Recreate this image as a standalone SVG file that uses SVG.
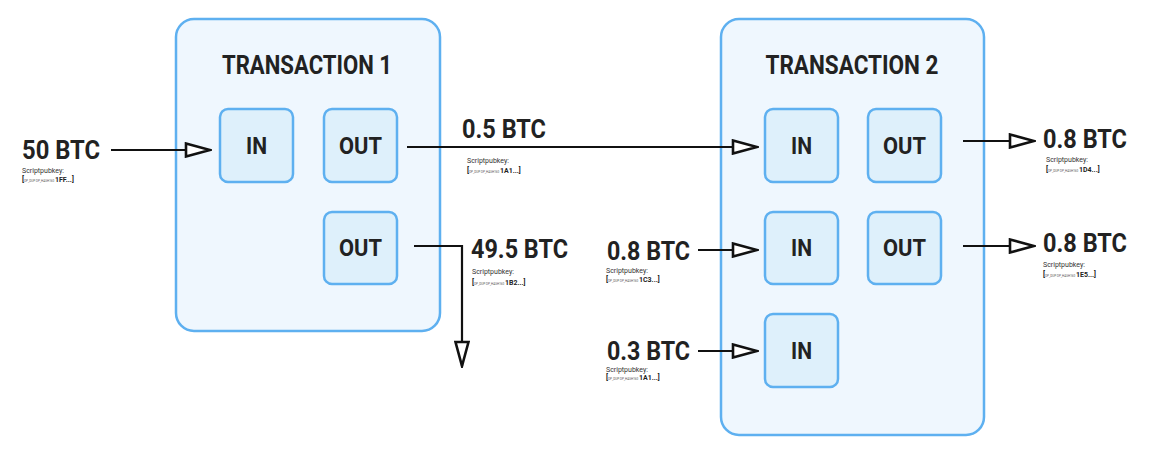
<svg xmlns="http://www.w3.org/2000/svg" width="1156" height="452" viewBox="0 0 1156 452">
<defs>
<style>
.tx{fill:#eff7fe;stroke:#5eb0f0;stroke-width:2.5}
.io{fill:#def0fb;stroke:#5eb0f0;stroke-width:2.5}
.title{font-family:Roboto,"Liberation Sans",sans-serif;font-weight:bold;font-size:25px;fill:#222;text-anchor:middle}
.lbl{font-family:Roboto,"Liberation Sans",sans-serif;font-weight:bold;font-size:23px;fill:#222;text-anchor:middle}
.amt{font-family:Roboto,"Liberation Sans",sans-serif;font-weight:bold;font-size:25px;fill:#222}
.sp{font-family:Roboto,"Liberation Sans",sans-serif;font-size:7px;fill:#333}
.br{font-family:Roboto,"Liberation Sans",sans-serif;font-size:7px;fill:#222;font-weight:bold}
.tiny{font-size:3px;font-weight:normal;fill:#555}
.c{fill:none;stroke:#111;stroke-width:2.2}
</style>
<marker id="arr" viewBox="0 0 28 16" refX="26" refY="8" markerWidth="28" markerHeight="16" markerUnits="userSpaceOnUse" orient="auto">
<path d="M2,1.5 L26,8 L2,14.5 Z" fill="#fff" stroke="#111" stroke-width="2.6" stroke-linejoin="miter"/>
</marker>
</defs>
<rect width="1156" height="452" fill="#fff"/>
<g id="tx1">
<rect class="tx" x="176" y="19" width="264" height="312" rx="18"/>
<text class="title" x="307" y="74" textLength="170" lengthAdjust="spacingAndGlyphs">TRANSACTION 1</text>
</g>
<g id="tx1-in">
<rect class="io" x="220" y="109" width="73" height="73" rx="8"/>
<text class="lbl" x="256.5" y="154" textLength="21" lengthAdjust="spacingAndGlyphs">IN</text>
</g>
<g id="tx1-out1">
<rect class="io" x="324" y="109" width="73" height="73" rx="8"/>
<text class="lbl" x="360.5" y="154" textLength="43" lengthAdjust="spacingAndGlyphs">OUT</text>
</g>
<g id="tx1-out2">
<rect class="io" x="324" y="212" width="73" height="72" rx="8"/>
<text class="lbl" x="360.5" y="256" textLength="43" lengthAdjust="spacingAndGlyphs">OUT</text>
</g>
<g id="tx2">
<rect class="tx" x="721" y="19" width="263" height="416" rx="18"/>
<text class="title" x="852" y="74" textLength="173" lengthAdjust="spacingAndGlyphs">TRANSACTION 2</text>
</g>
<g id="tx2-in1">
<rect class="io" x="765" y="109" width="73" height="73" rx="8"/>
<text class="lbl" x="801.5" y="154" textLength="21" lengthAdjust="spacingAndGlyphs">IN</text>
</g>
<g id="tx2-in2">
<rect class="io" x="765" y="212" width="73" height="72" rx="8"/>
<text class="lbl" x="801.5" y="256" textLength="21" lengthAdjust="spacingAndGlyphs">IN</text>
</g>
<g id="tx2-in3">
<rect class="io" x="765" y="314" width="73" height="73" rx="8"/>
<text class="lbl" x="801.5" y="359" textLength="21" lengthAdjust="spacingAndGlyphs">IN</text>
</g>
<g id="tx2-out1">
<rect class="io" x="868" y="109" width="73" height="73" rx="8"/>
<text class="lbl" x="904.5" y="154" textLength="43" lengthAdjust="spacingAndGlyphs">OUT</text>
</g>
<g id="tx2-out2">
<rect class="io" x="868" y="212" width="73" height="72" rx="8"/>
<text class="lbl" x="904.5" y="256" textLength="43" lengthAdjust="spacingAndGlyphs">OUT</text>
</g>
<g id="connectors">
<path class="c" d="M111,150 H210" marker-end="url(#arr)"/>
<path class="c" d="M407,147 H757" marker-end="url(#arr)"/>
<path class="c" d="M414,246 H462 V366" marker-end="url(#arr)"/>
<path class="c" d="M698,250 H757" marker-end="url(#arr)"/>
<path class="c" d="M698,351 H757" marker-end="url(#arr)"/>
<path class="c" d="M963,141 H1034" marker-end="url(#arr)"/>
<path class="c" d="M963,246 H1034" marker-end="url(#arr)"/>
</g>
<g id="label-50">
<text class="amt" x="22" y="159" textLength="78" lengthAdjust="spacingAndGlyphs">50 BTC</text>
<text class="sp" x="22" y="173">Scriptpubkey:</text>
<text class="br" x="22" y="182">[<tspan class="tiny">OP_DUP OP_HASH160 </tspan>1FF...]</text>
</g>
<g id="label-05">
<text class="amt" x="462" y="138" textLength="84" lengthAdjust="spacingAndGlyphs">0.5 BTC</text>
<text class="sp" x="467" y="163">Scriptpubkey:</text>
<text class="br" x="467" y="173">[<tspan class="tiny">OP_DUP OP_HASH160 </tspan>1A1...]</text>
</g>
<g id="label-495">
<text class="amt" x="471" y="258" textLength="97" lengthAdjust="spacingAndGlyphs">49.5 BTC</text>
<text class="sp" x="472" y="274">Scriptpubkey:</text>
<text class="br" x="472" y="285">[<tspan class="tiny">OP_DUP OP_HASH160 </tspan>1B2...]</text>
</g>
<g id="label-08-in">
<text class="amt" x="607" y="260" textLength="83" lengthAdjust="spacingAndGlyphs">0.8 BTC</text>
<text class="sp" x="606" y="273">Scriptpubkey:</text>
<text class="br" x="606" y="282">[<tspan class="tiny">OP_DUP OP_HASH160 </tspan>1C3...]</text>
</g>
<g id="label-03-in">
<text class="amt" x="607" y="360" textLength="83" lengthAdjust="spacingAndGlyphs">0.3 BTC</text>
<text class="sp" x="606" y="372">Scriptpubkey:</text>
<text class="br" x="606" y="380">[<tspan class="tiny">OP_DUP OP_HASH160 </tspan>1A1...]</text>
</g>
<g id="label-08-out1">
<text class="amt" x="1043" y="148" textLength="84" lengthAdjust="spacingAndGlyphs">0.8 BTC</text>
<text class="sp" x="1046" y="162">Scriptpubkey:</text>
<text class="br" x="1046" y="172">[<tspan class="tiny">OP_DUP OP_HASH160 </tspan>1D4...]</text>
</g>
<g id="label-08-out2">
<text class="amt" x="1043" y="252" textLength="84" lengthAdjust="spacingAndGlyphs">0.8 BTC</text>
<text class="sp" x="1043" y="267">Scriptpubkey:</text>
<text class="br" x="1043" y="277">[<tspan class="tiny">OP_DUP OP_HASH160 </tspan>1E5...]</text>
</g>
</svg>
